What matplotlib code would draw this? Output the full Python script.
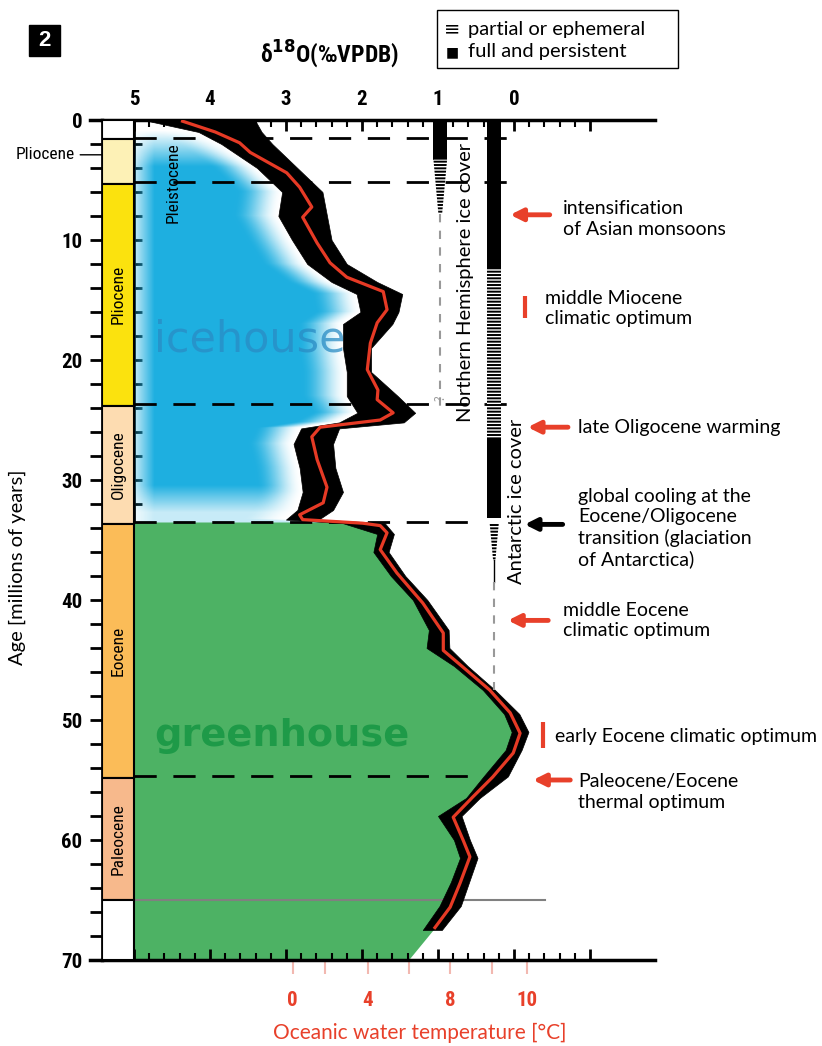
import matplotlib
matplotlib.use("Agg")
import matplotlib.pyplot as plt
from matplotlib import font_manager as fm
from matplotlib.patches import Rectangle
import numpy as np

plt.rcParams['font.family'] = ['Lato', 'DejaVu Sans']
plt.rcParams['hatch.linewidth'] = 1.4
plt.rcParams['mathtext.default'] = 'bf'

# pick a condensed face if one is installed
_fonts = fm.fontManager.ttflist
_names = {f.name for f in _fonts}
NARROW, STRETCH = 'Lato', 'normal'
for cand in ['Liberation Sans Narrow', 'Roboto Condensed', 'Open Sans Condensed',
             'DejaVu Sans Condensed', 'Noto Sans Condensed']:
    if cand in _names:
        NARROW = cand
        break
else:
    for pref in ['Roboto', 'Noto Sans', 'Open Sans', 'DejaVu Sans']:
        if any(f.name == pref and 'condensed' in str(f.stretch) for f in _fonts):
            NARROW, STRETCH = pref, 'condensed'
            break


def narrow(t, bold=False, size=None):
    t.set_family([NARROW, 'DejaVu Sans'])
    t.set_stretch(STRETCH)
    if bold:
        t.set_fontweight('bold')
    if size:
        t.set_fontsize(size)
    return t


# smoothed d18O curve (age in Myr, d18O permil)
curve_age = [0.1, 1.0, 1.9, 2.7, 4.4, 5.6, 7.25, 8.1, 10.25, 11.9, 13.1, 14.3, 15.8,
             16.9, 18.6, 20.8, 22.5, 23.3, 24.4, 25.0, 25.6, 26.4, 28.3, 30.6, 31.9,
             32.9, 33.3, 33.6, 33.8, 34.4, 35.8, 37.75, 40.25, 42.75, 44.2, 45.6, 47.5,
             49.4, 51.1, 52.75, 54.75, 56.4, 58.1, 60.0, 61.4, 63.6, 65.6, 67.3]
curve_d18o = [4.36, 3.93, 3.61, 3.47, 2.99, 2.82, 2.66, 2.78, 2.59, 2.42, 2.20, 1.72, 1.67,
              1.80, 1.89, 1.93, 1.79, 1.80, 1.59, 1.76, 2.55, 2.66, 2.59, 2.46, 2.51,
              2.82, 2.78, 1.99, 1.76, 1.67, 1.76, 1.54, 1.20, 0.93, 0.93, 0.67, 0.32,
              0.05, -0.08, 0.01, 0.28, 0.54, 0.80, 0.67, 0.58, 0.71, 0.84, 1.04]

# spread of the individual measurements (left / right envelope)
band_age = [0.1, 1.0, 2.0, 4.0, 6.0, 8.0, 10.0, 12.0, 13.5, 14.5, 16.0, 17.0, 19.0, 21.0,
            23.0, 24.4, 25.2, 25.7, 27.0, 29.0, 31.0, 32.5, 33.3, 33.6, 34.5, 36.0, 38.0,
            40.0, 42.5, 44.0, 45.5, 47.5, 49.5, 51.0, 52.5, 54.7, 56.5, 58.0, 60.0, 61.5,
            63.5, 65.5, 67.5]
band_left = [4.80, 4.15, 3.85, 3.38, 3.05, 3.10, 2.92, 2.72, 2.40, 2.07, 2.02, 2.25, 2.25,
             2.20, 2.20, 2.06, 2.30, 2.80, 2.90, 2.82, 2.78, 2.85, 3.0, 2.25, 1.80, 1.85,
             1.62, 1.33, 1.12, 1.15, 0.79, 0.41, 0.13, 0.03, 0.11, 0.40, 0.63, 1.00, 0.79,
             0.71, 0.83, 0.98, 1.20]
band_right = [3.40, 3.32, 3.18, 2.85, 2.52, 2.46, 2.40, 2.20, 1.80, 1.47, 1.52, 1.60, 1.88,
              1.88, 1.53, 1.30, 1.45, 2.30, 2.38, 2.35, 2.25, 2.38, 2.57, 1.70, 1.58, 1.65,
              1.43, 1.14, 0.86, 0.85, 0.61, 0.25, -0.07, -0.19, -0.10, 0.08, 0.45, 0.69,
              0.58, 0.48, 0.59, 0.70, 0.95]

# greenhouse fill edge (curve below 33.5 Myr + edge at the bottom)
green_age = [33.5, 33.8, 34.4, 35.8, 37.75, 40.25, 42.75, 44.2, 45.6, 47.5, 49.4, 51.1,
             52.75, 54.75, 56.4, 58.1, 60.0, 61.4, 63.6, 65.6, 67.3, 70.0]
green_d18o = [1.99, 1.76, 1.67, 1.76, 1.54, 1.20, 0.93, 0.93, 0.67, 0.32, 0.05, -0.08,
              0.01, 0.28, 0.54, 0.80, 0.67, 0.58, 0.71, 0.84, 1.04, 1.39]

# epochs column
epoch_start = [0, 1.6, 5.3, 23.8, 33.7, 54.8, 65.0]
epoch_end = [1.6, 5.3, 23.8, 33.7, 54.8, 65.0, 70.0]
epoch_label = ['', '', 'Pliocene', 'Oligocene', 'Eocene', 'Paleocene', '']
epoch_color = ['white', '#fdf1b6', '#fbe20e', '#fddcb1', '#fbbc58', '#f7b98c', 'white']

boundary_age = [1.5, 5.2, 23.7, 33.5, 54.7]
boundary_end = [-0.08, -0.08, 0.05, 0.58, 0.58]

# temperature scale (label, position on d18O axis)
temp_labels = ['0', '4', '8', '10']
temp_pos = [2.91, 1.92, 0.84, -0.17]
temp_minor = [2.49, 1.38, 0.29]

# ice sheets
nh_x, ais_x = 0.97, 0.26
nh_full = (0.0, 3.3)
nh_partial = (3.3, 7.8)
nh_unknown = (7.8, 23.9)
ais_full = [(0.0, 12.3), (26.5, 33.2)]
ais_partial = [(12.3, 26.5)]
ais_taper = (33.6, 36.7)
ais_unknown = (38.5, 47.5)

# events
arrow_age = [7.9, 25.6, 33.7, 41.7, 55.0]
arrow_tip = [0.05, -0.18, -0.14, 0.08, -0.25]
arrow_tail = [-0.47, -0.71, -0.64, -0.45, -0.74]
arrow_color = ['#e8402a', '#e8402a', 'black', '#e8402a', '#e8402a']
bar_span = [(14.7, 16.5), (50.2, 52.3)]
bar_x = [-0.14, -0.38]
note_text = ['intensification\nof Asian monsoons', 'middle Miocene\nclimatic optimum',
             'late Oligocene warming',
             'global cooling at the\nEocene/Oligocene\ntransition (glaciation\nof Antarctica)',
             'middle Eocene\nclimatic optimum', 'early Eocene climatic optimum',
             'Paleocene/Eocene\nthermal optimum']
note_age = [8.25, 15.7, 25.6, 34.0, 41.7, 51.4, 56.0]
note_x = [-0.64, -0.41, -0.84, -0.84, -0.64, -0.54, -0.84]

RED = '#e8402a'
W, H = 822, 1046
fig = plt.figure(figsize=(W / 100, H / 100), dpi=100)
ax = fig.add_axes([102 / W, 1 - 960 / H, (655 - 102) / W, 840 / H])
XL, XR = 5.42, -1.855

# icehouse gradient
ag = np.linspace(0, 33.6, 400)
dg = np.linspace(5.0, 1.0, 400)
D, A = np.meshgrid(dg, ag)
bl = np.interp(ag, band_age, band_left)[:, None]
t = np.clip((D - bl) / 0.6, 0, 1)
inten = t * t * (3 - 2 * t)
inten *= np.clip((5.0 - D) / 0.35 + 0.25, 0, 1)
inten *= np.clip((A - 0.9) / 3.0, 0, 1)
inten *= np.clip((33.5 - A) / 3.0, 0.25, 1)
rgba = np.zeros(D.shape + (4,))
rgba[..., 0], rgba[..., 1], rgba[..., 2] = 0.12, 0.69, 0.88
rgba[..., 3] = inten
ax.imshow(rgba, extent=[5.0, 1.0, 33.6, 0], aspect='auto', interpolation='bilinear', zorder=1)

ax.fill_betweenx(green_age, 5.0, green_d18o, color='#4db264', lw=0, zorder=1)
ax.text(3.47, 18.3, 'icehouse', color='#2a8cc4', alpha=0.75, fontsize=31,
        family=['DejaVu Sans'], ha='center', va='center', zorder=2)
ax.text(3.05, 51.3, 'greenhouse', color='#1e9a48', fontsize=27.5, fontweight='bold',
        family=['DejaVu Sans'], ha='center', va='center', zorder=2)

for a, e in zip(boundary_age, boundary_end):
    ax.plot([5.0, e], [a, a], color='black', lw=2, dashes=(8, 6), zorder=3)
ax.plot([5.0, -0.41], [65.0, 65.0], color='#808080', lw=1.5, zorder=3)

ax.fill_betweenx(band_age, band_left, band_right, color='black', lw=0.5, zorder=4)
ax.plot(curve_d18o, curve_age, color='#e63a25', lw=2.3, zorder=5)

# epochs
for s, e, lab, c in zip(epoch_start, epoch_end, epoch_label, epoch_color):
    ax.barh((s + e) / 2, 0.42, left=5.0, height=e - s, color=c, edgecolor='black',
            lw=1.5, zorder=6)
    if lab:
        narrow(ax.text(5.21, (s + e) / 2, lab, rotation=90, ha='center', va='center',
                       zorder=7), size=12.5)
narrow(ax.annotate('Pliocene', xy=(5.2, 2.9), xytext=(5.78, 2.9), ha='right',
                   va='center', annotation_clip=False,
                   arrowprops=dict(arrowstyle='-', lw=1, shrinkA=2, shrinkB=0)), size=12.5)
narrow(ax.text(4.49, 5.2, 'Pleistocene', rotation=90, ha='center', va='center',
               zorder=7), size=12.5)

# ice sheets
hw = 0.09
ax.fill_betweenx(nh_full, nh_x - hw, nh_x + hw, color='black', lw=0, zorder=6)
ax.fill_betweenx(nh_partial, [nh_x - hw, nh_x - 0.025], [nh_x + hw, nh_x + 0.025],
                 facecolor='white', edgecolor='black', hatch='-----', lw=0, zorder=6)
ax.plot([nh_x, nh_x], nh_unknown, color='#999999', lw=1.5, dashes=(4, 4), zorder=6)
ax.text(nh_x, 23.2, '?', rotation=90, color='#999999', fontsize=9, ha='center',
        va='center', zorder=6)
for s, e in ais_full:
    ax.fill_betweenx([s, e], ais_x - hw, ais_x + hw, color='black', lw=0, zorder=6)
for s, e in ais_partial:
    ax.fill_betweenx([s, e], ais_x - hw, ais_x + hw, facecolor='white',
                     edgecolor='black', hatch='-----', lw=0, zorder=6)
ax.fill_betweenx(ais_taper, [ais_x - 0.06, ais_x - 0.015], [ais_x + 0.06, ais_x + 0.015],
                 facecolor='white', edgecolor='black', hatch='-----', lw=0, zorder=6)
ax.plot([ais_x, ais_x], [ais_taper[1], ais_unknown[0]], color='black', lw=1, zorder=6)
ax.plot([ais_x, ais_x], ais_unknown, color='#999999', lw=1.5, dashes=(4, 4), zorder=6)
ax.text(0.64, 13.5, 'Northern Hemisphere ice cover', rotation=90, fontsize=14.5,
        ha='center', va='center', zorder=7)
ax.text(-0.03, 31.8, 'Antarctic ice cover', rotation=90, fontsize=14.5,
        ha='center', va='center', zorder=7)

# events
for a, tip, tail, c in zip(arrow_age, arrow_tip, arrow_tail, arrow_color):
    ax.annotate('', xy=(tip, a), xytext=(tail, a), annotation_clip=False,
                arrowprops=dict(arrowstyle='-|>', color=c, lw=3.5, mutation_scale=18,
                                shrinkA=0, shrinkB=0))
for (s, e), x in zip(bar_span, bar_x):
    ax.plot([x, x], [s, e], color=RED, lw=3, solid_capstyle='butt', clip_on=False)
for t, a, x in zip(note_text, note_age, note_x):
    ax.text(x, a, t, ha='left', va='center', fontsize=14, linespacing=1.25,
            clip_on=False)

# axes
ax.set_xlim(XL, XR)
ax.set_ylim(70, 0)
ax.spines['right'].set_visible(False)
for sp in ['top', 'bottom']:
    ax.spines[sp].set_linewidth(2.5)
ax.spines['left'].set_linewidth(2)
for a in [0, 70]:
    ax.plot([5.58, XL], [a, a], color='black', lw=2.5, clip_on=False)

ax.set_xticks([5, 4, 3, 2, 1, 0, -1])
ax.set_xticklabels(['5', '4', '3', '2', '1', '0', ''])
ax.set_xticks(np.arange(-1.0, 5.01, 0.2), minor=True)
ax.tick_params(axis='x', which='both', direction='in', top=True, bottom=True,
               labeltop=True, labelbottom=False, pad=8)
ax.tick_params(axis='x', which='major', length=8, width=2)
ax.tick_params(axis='x', which='minor', length=5, width=1.5)
for lbl in ax.get_xticklabels():
    narrow(lbl, bold=True, size=15)

ax.set_yticks(np.arange(0, 71, 10))
ax.set_yticks(np.arange(0, 71, 2), minor=True)
ax.tick_params(axis='y', which='both', direction='out', length=9, width=2, pad=5)
for lbl in ax.get_yticklabels():
    narrow(lbl, bold=True, size=15)

inner = ax.secondary_yaxis((XL - 5.0) / (XL - XR))
inner.set_yticks(np.arange(0, 71, 2))
inner.tick_params(direction='in', length=6, width=2, labelleft=False)
inner.spines['left'].set_linewidth(2)

temp = ax.secondary_xaxis('bottom')
temp.set_xticks(temp_pos, labels=temp_labels)
temp.set_xticks(temp_minor, minor=True)
temp.spines['bottom'].set_visible(False)
temp.tick_params(which='both', direction='out', length=10, width=1.5, color='#f2b8b0',
                 labelcolor=RED, pad=12)
for lbl in temp.get_xticklabels():
    narrow(lbl, bold=True, size=15)

fig.text(420 / W, 1 - 1033 / H, 'Oceanic water temperature [°C]', color=RED,
         fontsize=15, ha='center', va='center')
fig.text(17 / W, 1 - 567 / H, 'Age [millions of years]', rotation=90, fontsize=14.5,
         ha='center', va='center')
narrow(fig.text(330 / W, 1 - 54 / H, 'δ$^{18}$O(‰VPDB)', ha='center', va='center'),
       bold=True, size=17)

fig.patches.append(Rectangle((29 / W, 1 - 56 / H), 31 / W, 31 / H, color='black',
                             transform=fig.transFigure))
fig.text(44.5 / W, 1 - 40.5 / H, '2', color='white', fontsize=16, fontweight='bold',
         family=['Liberation Sans', 'DejaVu Sans'], ha='center', va='center')
fig.patches.append(Rectangle((437 / W, 1 - 68 / H), 241 / W, 58 / H, fill=False,
                             edgecolor='black', lw=1, transform=fig.transFigure))
fig.text(452 / W, 1 - 29 / H, '≡', fontsize=14, family=['DejaVu Sans'], ha='center',
         va='center')
fig.text(452 / W, 1 - 52 / H, '■', fontsize=10, family=['DejaVu Sans'], ha='center',
         va='center')
fig.text(468 / W, 1 - 29 / H, 'partial or ephemeral', fontsize=14.5, va='center')
fig.text(468 / W, 1 - 52 / H, 'full and persistent', fontsize=14.5, va='center')

fig.savefig('out.png', dpi=100)
